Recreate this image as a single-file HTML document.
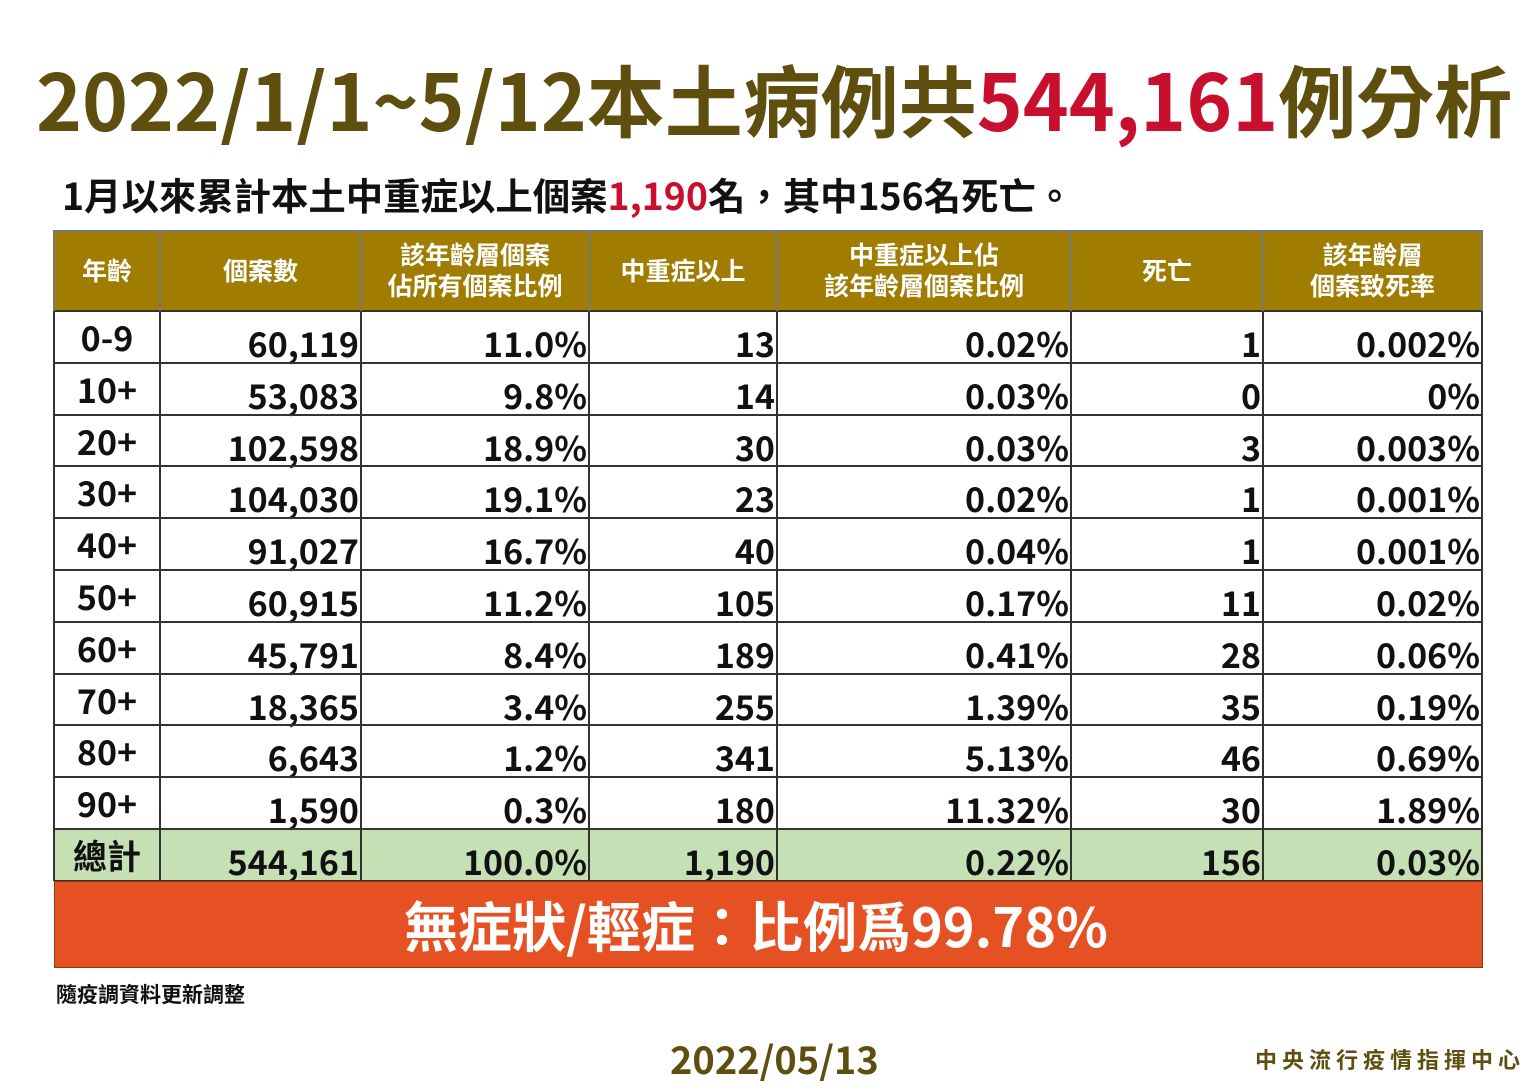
<!DOCTYPE html>
<html><head><meta charset="utf-8"><style>
body{margin:0;width:1536px;height:1086px;background:#fff;position:relative;overflow:hidden;font-family:"Noto Sans CJK TC","Liberation Sans",sans-serif;}
.t{position:absolute;white-space:nowrap;font-weight:bold;}
.c{position:absolute;white-space:nowrap;font-weight:bold;font-size:34px;line-height:34px;color:#111;text-align:right;}
.hl{position:absolute;background:#333;}
.hh{position:absolute;color:#fff;font-weight:bold;font-size:25px;line-height:31px;text-align:center;white-space:nowrap;}
</style></head><body>
<div class="t" style="left:36px;top:52px;font-size:78px;line-height:92px;color:#5e4f0f;">2022/1/1~5/12本土病例共<span style="color:#c8102e">544,161</span>例分析</div>
<div class="t" style="left:62px;top:172px;font-size:37.4px;line-height:44px;color:#111;">1月以來累計本土中重症以上個案<span style="color:#c8102e">1,190</span>名，其中156名死亡。</div>
<div style="position:absolute;left:54px;top:230px;width:1428px;height:81px;background:#a07c00;"></div>
<div style="position:absolute;left:54px;top:829px;width:1428px;height:52px;background:#c5e0b4;"></div>
<div id="g"></div>
<div style="position:absolute;left:54px;top:881px;width:1427px;height:85px;background:#e65123;border:1px solid #8a3a1a;"></div>
<div class="t" style="left:0;width:1512px;text-align:center;top:889px;font-size:54px;line-height:70px;color:#fff;">無症狀/輕症：比例爲99.78%</div>
<div class="t" style="left:56px;top:980px;font-size:21px;line-height:28px;color:#111;">隨疫調資料更新調整</div>
<div class="t" style="left:670px;top:1035px;font-size:38px;line-height:46px;color:#5e4f0f;">2022/05/13</div>
<div class="t" style="left:1255px;top:1045px;font-size:22px;line-height:28px;color:#5e4f0f;letter-spacing:5px;">中央流行疫情指揮中心</div>
<script>
var X=[54,160,361,589,777,1071,1263,1482];
var H=[["年齡"],["個案數"],["該年齡層個案","佔所有個案比例"],["中重症以上"],["中重症以上佔","該年齡層個案比例"],["死亡"],["該年齡層","個案致死率"]];
var R=[["0-9","60,119","11.0%","13","0.02%","1","0.002%"],["10+","53,083","9.8%","14","0.03%","0","0%"],["20+","102,598","18.9%","30","0.03%","3","0.003%"],["30+","104,030","19.1%","23","0.02%","1","0.001%"],["40+","91,027","16.7%","40","0.04%","1","0.001%"],["50+","60,915","11.2%","105","0.17%","11","0.02%"],["60+","45,791","8.4%","189","0.41%","28","0.06%"],["70+","18,365","3.4%","255","1.39%","35","0.19%"],["80+","6,643","1.2%","341","5.13%","46","0.69%"],["90+","1,590","0.3%","180","11.32%","30","1.89%"],["總計","544,161","100.0%","1,190","0.22%","156","0.03%"]];
var s="";
for(var j=0;j<7;j++){var w=X[j+1]-X[j];var n=H[j].length;
 s+='<div class="hh" style="left:'+X[j]+'px;width:'+w+'px;top:'+(270-n*15.5)+'px">'+H[j].join("<br>")+'</div>';}
for(var i=0;i<11;i++){var ry=311+i*51.8;
 for(var j=0;j<7;j++){
  if(j==0) s+='<div class="c" style="left:54px;width:106px;text-align:center;top:'+(ry+9)+'px">'+R[i][0]+'</div>';
  else s+='<div class="c" style="left:'+X[j]+'px;width:'+(X[j+1]-X[j]-2)+'px;top:'+(ry+15)+'px">'+R[i][j]+'</div>';}}
for(var i=0;i<=11;i++){var y=Math.round(311+i*51.8);s+='<div class="hl" style="left:54px;width:1428px;top:'+(y-1)+'px;height:1.5px"></div>';}
s+='<div class="hl" style="left:54px;width:1428px;top:230px;height:1.5px;background:#777"></div>';
for(var j=0;j<8;j++){s+='<div class="hl" style="left:'+(X[j]-1)+'px;width:1.5px;top:311px;height:570px"></div>';
 s+='<div class="hl" style="left:'+(X[j]-1)+'px;width:1.5px;top:230px;height:81px;background:#777"></div>';}
document.getElementById("g").innerHTML=s;
</script>
</body></html>
